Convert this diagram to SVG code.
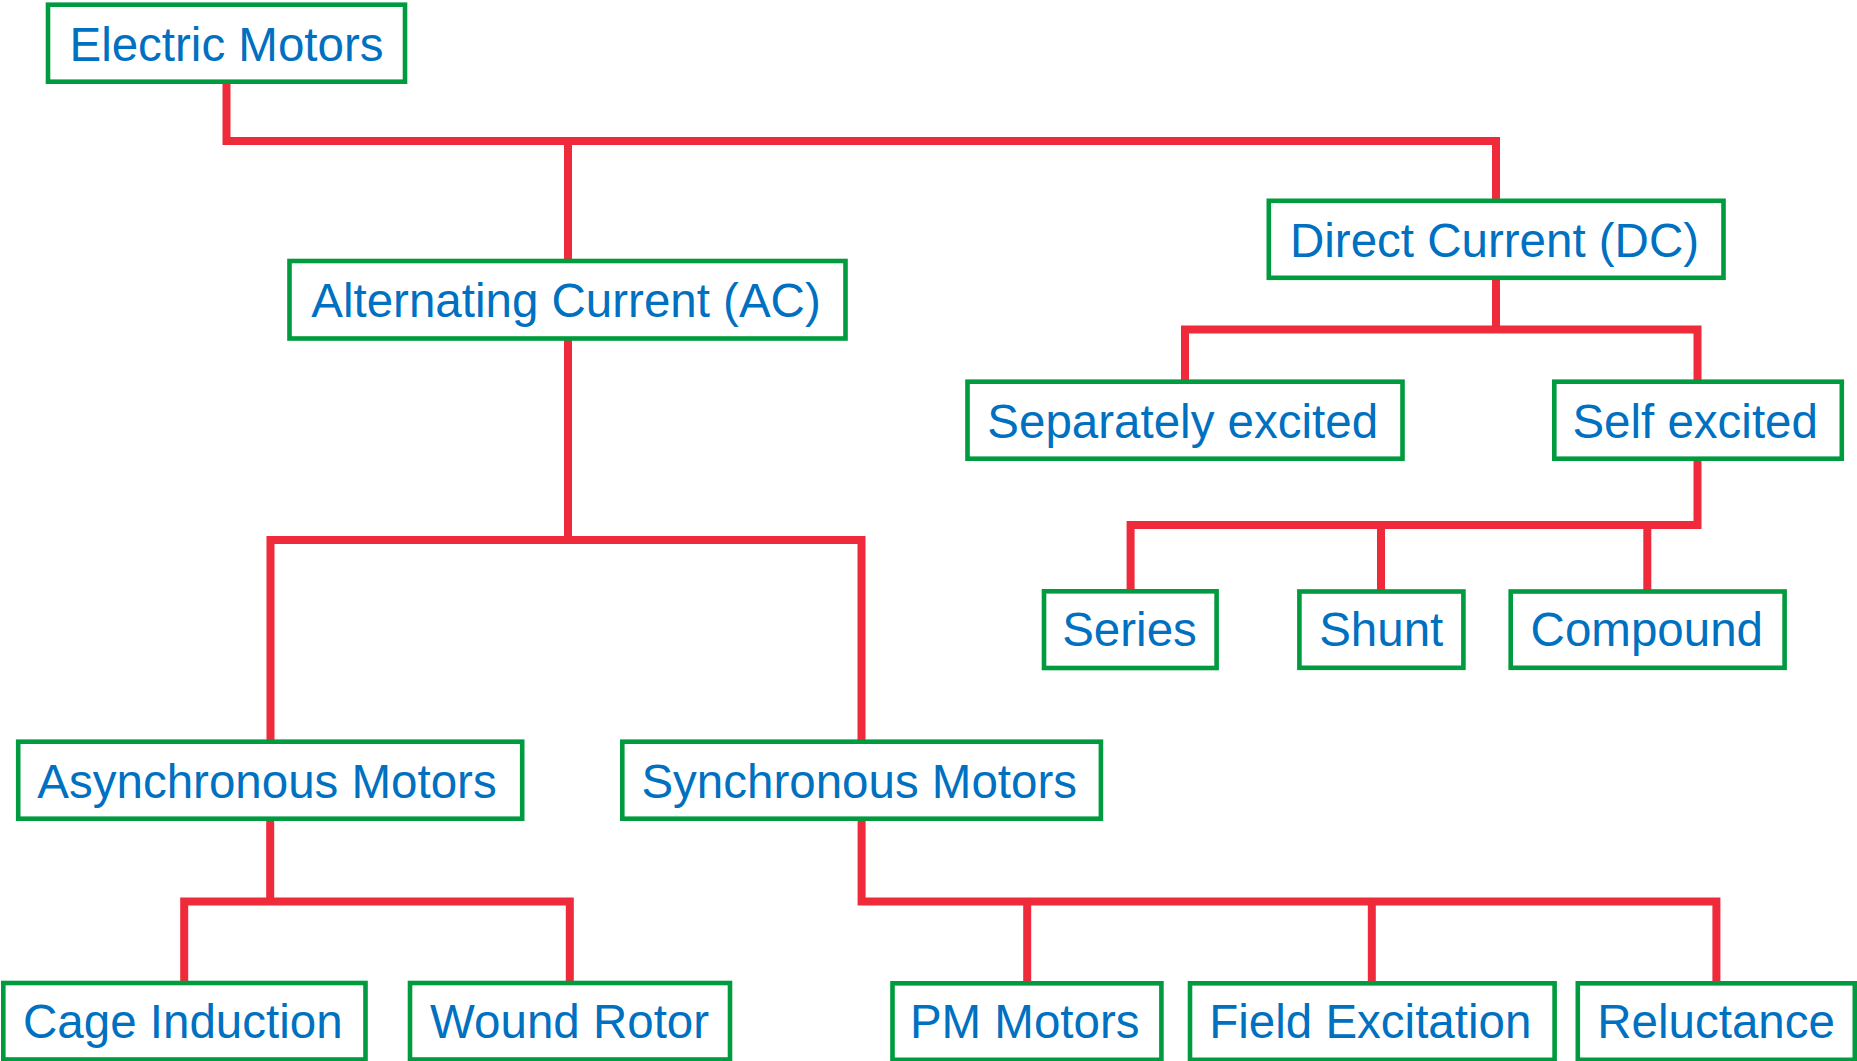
<svg xmlns="http://www.w3.org/2000/svg" width="1857" height="1061" viewBox="0 0 1857 1061">
<style>
.box{fill:#ffffff;stroke:#009B3E;stroke-width:4.6}
.lbl{font-family:"Liberation Sans",Arial,sans-serif;font-size:47.5px;fill:#0070C0;text-anchor:middle}
.con{fill:none;stroke:#EE2A3B;stroke-width:8;stroke-linejoin:miter;stroke-linecap:butt}
</style>
<rect width="1857" height="1061" fill="#ffffff"/>
<g id="connectors">
<path class="con" d="M226.5 81.5 V141 H1496 V200.8"/>
<path class="con" d="M568 141 V261"/>
<path class="con" d="M568 338.5 V540"/>
<path class="con" d="M270.5 741.7 V540 H861.5 V741.7"/>
<path class="con" d="M1496 277.8 V329.5"/>
<path class="con" d="M1185 381.7 V329.5 H1697.5 V381.7"/>
<path class="con" d="M1697.5 458.5 V525 H1130.6 V591.3"/>
<path class="con" d="M1381 525 V591.5"/>
<path class="con" d="M1647.3 525 V591.5"/>
<path class="con" d="M270.2 818.8 V901.5"/>
<path class="con" d="M184.2 983 V901.5 H569.8 V983"/>
<path class="con" d="M861.6 818.8 V901.5 H1716.4 V983.3"/>
<path class="con" d="M1027.2 901.5 V983.3"/>
<path class="con" d="M1371.8 901.5 V983.3"/>
</g>
<g id="electric-motors"><rect class="box" x="48" y="4.7" width="357" height="77"/><text class="lbl" x="226.5" y="60.7">Electric Motors</text></g>
<g id="ac"><rect class="box" x="289.5" y="261" width="556" height="77.5"/><text class="lbl" x="566" y="317">Alternating Current (AC)</text></g>
<g id="dc"><rect class="box" x="1268.8" y="200.8" width="454.7" height="77"/><text class="lbl" x="1494.5" y="256.7">Direct Current (DC)</text></g>
<g id="separately-excited"><rect class="box" x="967.5" y="381.7" width="435" height="77"/><text class="lbl" x="1182.7" y="438">Separately excited</text></g>
<g id="self-excited"><rect class="box" x="1554.3" y="381.7" width="287.5" height="77"/><text class="lbl" x="1695.2" y="437.5">Self excited</text></g>
<g id="series"><rect class="box" x="1044" y="591.3" width="172.6" height="76.7"/><text class="lbl" x="1129.5" y="646">Series</text></g>
<g id="shunt"><rect class="box" x="1299.4" y="591.5" width="164" height="76.3"/><text class="lbl" x="1381.2" y="646">Shunt</text></g>
<g id="compound"><rect class="box" x="1510.7" y="591.5" width="273.9" height="76.3"/><text class="lbl" x="1646.8" y="646">Compound</text></g>
<g id="asynchronous"><rect class="box" x="18.2" y="741.7" width="504" height="77"/><text class="lbl" x="267" y="797.7">Asynchronous Motors</text></g>
<g id="synchronous"><rect class="box" x="622.3" y="741.7" width="478.6" height="77"/><text class="lbl" x="859.2" y="797.7">Synchronous Motors</text></g>
<g id="cage-induction"><rect class="box" x="3.3" y="983" width="362.2" height="76.5"/><text class="lbl" x="182.8" y="1038.3">Cage Induction</text></g>
<g id="wound-rotor"><rect class="box" x="410" y="983" width="320" height="76.5"/><text class="lbl" x="569.6" y="1038.3">Wound Rotor</text></g>
<g id="pm-motors"><rect class="box" x="892.5" y="983.3" width="268.9" height="76.5"/><text class="lbl" x="1024.7" y="1038.3">PM Motors</text></g>
<g id="field-excitation"><rect class="box" x="1190" y="983.3" width="364.6" height="76.5"/><text class="lbl" x="1370.3" y="1038.3">Field Excitation</text></g>
<g id="reluctance"><rect class="box" x="1577.8" y="983.3" width="277" height="76.5"/><text class="lbl" x="1716.1" y="1038.3">Reluctance</text></g>
</svg>
